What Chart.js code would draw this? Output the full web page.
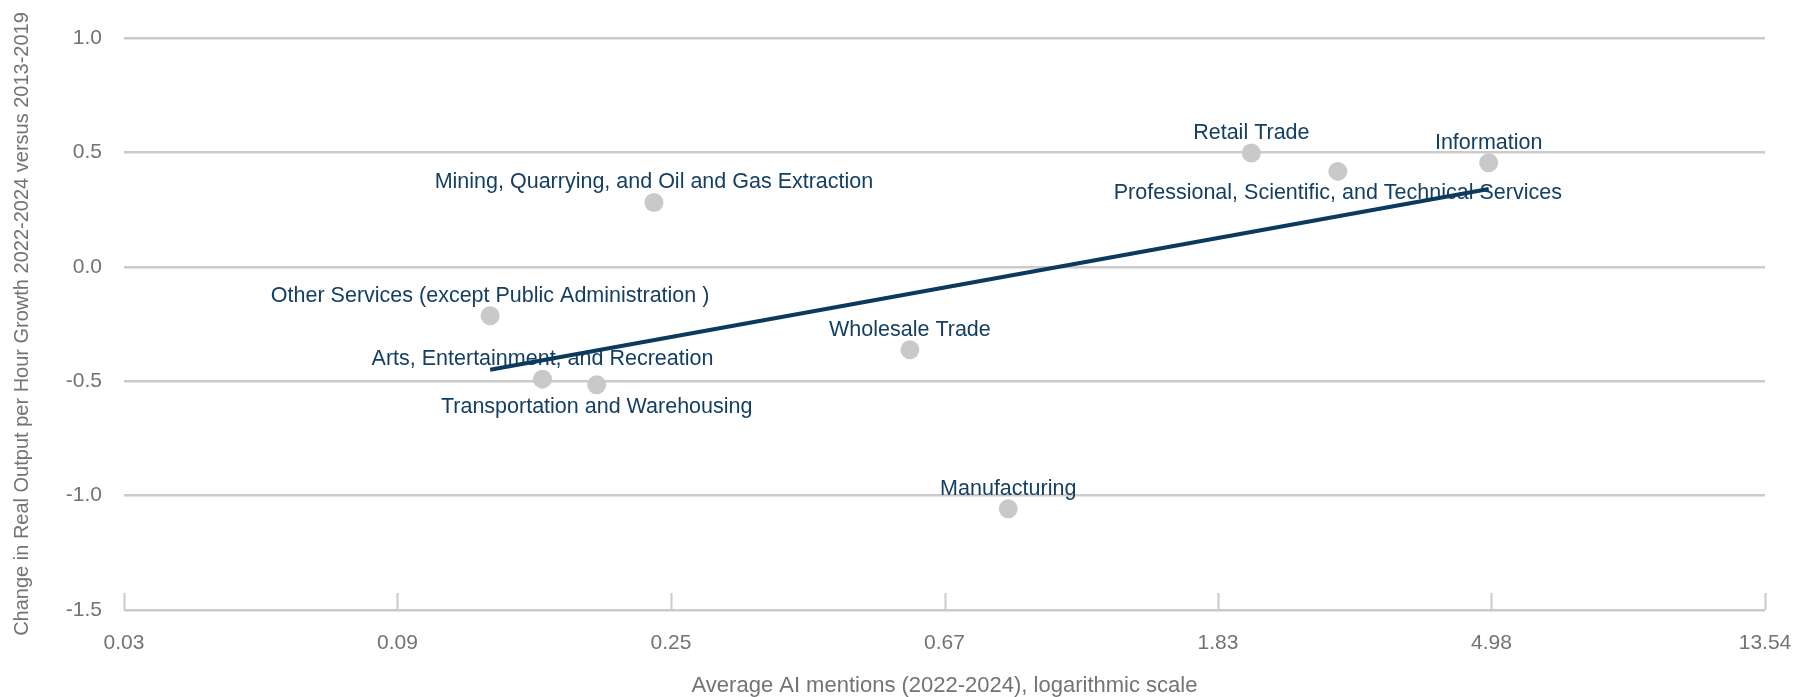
<!DOCTYPE html>
<html>
<head>
<meta charset="utf-8">
<script src="https://cdn.jsdelivr.net/npm/chart.js@4.4.1/dist/chart.umd.min.js"></script>
<style>
  html, body { margin: 0; padding: 0; background: #fff; }
  canvas { display: block; }
</style>
</head>
<body>
<canvas id="chart" width="1798" height="697"></canvas>
<script>
// sectors
const sectors = [
  'Mining, Quarrying, and Oil and Gas Extraction',
  'Other Services (except Public Administration )',
  'Arts, Entertainment, and Recreation',
  'Transportation and Warehousing',
  'Wholesale Trade',
  'Manufacturing',
  'Retail Trade',
  'Professional, Scientific, and Technical Services',
  'Information'
]
const aiMentions = [0.233, 0.128, 0.155, 0.189, 0.594, 0.851, 2.07, 2.84, 4.93]
const productivityChange = [0.281, -0.214, -0.491, -0.516, -0.363, -1.058, 0.497, 0.417, 0.455]

// fitted line end points
const trendX = [0.128, 4.93]
const trendY = [-0.45, 0.34]

// x axis ticks (log scale)
const xTickValues = [0.03356, 0.0912, 0.248, 0.6741, 1.8324, 4.981, 13.54]
const xTickLabels = ['0.03', '0.09', '0.25', '0.67', '1.83', '4.98', '13.54']

const labelsBelow = ['Transportation and Warehousing', 'Professional, Scientific, and Technical Services']

const FONT = '"Liberation Sans", Arial, sans-serif'
const NAVY = '#143f63'
const GRID = '#cbcbcb'
const TICK = '#737373'

const sectorLabels = {
  id: 'sectorLabels',
  beforeDatasetsDraw(chart) {
    const { ctx, chartArea, scales: { x, y } } = chart
    ctx.save()
    // small upward tick marks on the x axis
    ctx.strokeStyle = GRID
    ctx.lineWidth = 2
    xTickValues.forEach(v => {
      const px = Math.round(x.getPixelForValue(v)) + 0.5
      ctx.beginPath()
      ctx.moveTo(px, chartArea.bottom - 17)
      ctx.lineTo(px, chartArea.bottom)
      ctx.stroke()
    })
    ctx.font = '21.5px ' + FONT
    ctx.fillStyle = NAVY
    ctx.textAlign = 'center'
    ctx.textBaseline = 'middle'
    sectors.forEach((name, i) => {
      const px = x.getPixelForValue(aiMentions[i])
      const py = y.getPixelForValue(productivityChange[i])
      const dy = labelsBelow.includes(name) ? 22 : -20
      ctx.fillText(name, px, py + dy)
    })
    ctx.restore()
  }
}

const config = {
  type: 'scatter',
  data: {
    datasets: [
      {
        type: 'line',
        data: trendX.map((v, i) => ({ x: v, y: trendY[i] })),
        borderColor: '#0b3a5c',
        borderWidth: 4,
        pointRadius: 0,
        fill: false,
        order: 0
      },
      {
        data: aiMentions.map((v, i) => ({ x: v, y: productivityChange[i] })),
        backgroundColor: '#c9c9cb',
        borderWidth: 0,
        pointRadius: 9.5,
        order: 1
      }
    ]
  },
  options: {
    responsive: false,
    animation: false,
    layout: { padding: { top: 38, right: 33, left: 0, bottom: 0 } },
    plugins: {
      legend: { display: false },
      tooltip: { enabled: false }
    },
    scales: {
      x: {
        type: 'logarithmic',
        min: xTickValues[0],
        max: xTickValues[xTickValues.length - 1],
        afterBuildTicks: scale => {
          scale.ticks = xTickValues.map(v => ({ value: v }))
        },
        afterFit: scale => {
          scale.height = 87
          scale.paddingLeft = 0
          scale.paddingRight = 0
        },
        grid: { display: false },
        border: { display: false },
        ticks: {
          autoSkip: false,
          maxRotation: 0,
          padding: 13,
          color: TICK,
          font: { family: FONT, size: 21 },
          callback: (v, i) => xTickLabels[i]
        },
        title: {
          display: true,
          text: 'Average AI mentions (2022-2024), logarithmic scale',
          color: TICK,
          font: { family: FONT, size: 22, lineHeight: 0.86 },
          padding: { top: 0, bottom: 2 }
        }
      },
      y: {
        min: -1.5,
        max: 1.0,
        afterFit: scale => { scale.width = 124 },
        grid: {
          color: GRID,
          lineWidth: 2.5,
          drawTicks: false
        },
        border: { display: false },
        ticks: {
          stepSize: 0.5,
          padding: 22,
          color: TICK,
          font: { family: FONT, size: 21 },
          callback: v => v.toFixed(1)
        },
        title: {
          display: true,
          text: 'Change in Real Output per Hour Growth 2022-2024 versus 2013-2019',
          color: TICK,
          font: { family: FONT, size: 20 },
          padding: { top: 10, bottom: 0 }
        }
      }
    }
  },
  plugins: [sectorLabels]
}

const ctx = document.getElementById('chart')
window.myChart = new Chart(ctx, config)
</script>
</body>
</html>
